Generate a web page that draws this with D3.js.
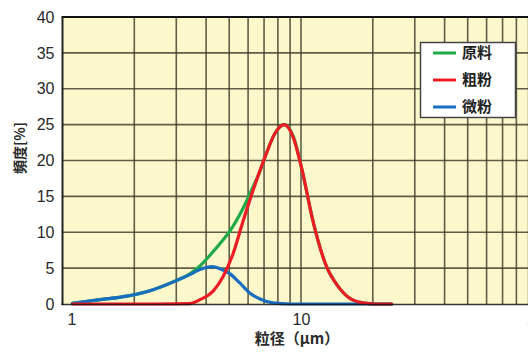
<!DOCTYPE html>
<html>
<head>
<script src="https://d3js.org/d3.v7.min.js"></script>
<style>
    body { margin: 0; background: #fff; }
    svg text { font-family: "Liberation Sans", "Noto Sans CJK JP", sans-serif; }
</style>
</head>
<body>
<script>
    // particle size (um) and frequency (%)
    var rawX   = [1.1, 1.44, 1.86, 2.4, 3.02, 3.42, 3.77, 4.28, 4.7, 5.04, 5.71, 6.29, 6.73, 7.07, 7.78, 8.5, 9.3, 10.1, 11.2, 12.8, 14.2, 16, 18.2, 20.4, 24];
    var rawY   = [0.1, 0.6, 1.1, 2.0, 3.3, 4.2, 5.3, 7.3, 8.9, 10.2, 13.3, 16.3, 18.5, 20.5, 23.8, 25, 23.3, 18.7, 11.7, 5.2, 2.6, 0.8, 0.15, 0, 0];

    var coarseX = [1.1, 2.5, 3.42, 3.77, 4.28, 4.71, 5.19, 5.71, 6.29, 7.07, 7.78, 8.5, 9.26, 10.1, 11.2, 12.8, 14.2, 16, 18.2, 20.4, 24];
    var coarseY = [0, 0, 0.05, 0.6, 1.8, 3.8, 7.0, 11.5, 15.8, 20.5, 23.8, 25, 23.3, 18.7, 11.7, 5.2, 2.6, 0.8, 0.15, 0, 0];

    var fineX = [1.1, 1.44, 1.86, 2.4, 3.02, 3.42, 3.77, 4.24, 4.66, 5.04, 5.55, 6.11, 6.73, 7.63, 9.0, 24];
    var fineY = [0.1, 0.6, 1.1, 2.0, 3.3, 4.1, 4.8, 5.2, 4.8, 4.2, 2.9, 1.5, 0.7, 0.15, 0, 0];

    var yTicks = [0, 5, 10, 15, 20, 25, 30, 35, 40];
    var xLabels = [1, 10, 100];
    var gridX = [2, 3, 4, 5, 6, 7, 8, 9, 10, 20, 30, 40, 50, 60, 70, 80, 90];

    var series = [
        { name: '原料', xs: rawX, ys: rawY, color: '#1faa48' },
        { name: '粗粉', xs: coarseX, ys: coarseY, color: '#ec1c24' },
        { name: '微粉', xs: fineX, ys: fineY, color: '#1a6ec0' }
    ];

    var W = 528, H = 353;
    var pLeft = 62.5, pTop = 17, pBottom = 304, pRight = 539.5;

    var svg = d3.select('body').append('svg')
        .attr('width', W)
        .attr('height', H);

    var x = d3.scaleLog().domain([1, 100]).range([pLeft, pRight]);
    var y = d3.scaleLinear().domain([0, 40]).range([pBottom, pTop]);

    // plot background
    svg.append('rect')
        .attr('x', pLeft).attr('y', pTop)
        .attr('width', pRight - pLeft).attr('height', pBottom - pTop)
        .attr('fill', '#fdf8cb');

    // grid
    var grid = svg.append('g')
        .attr('stroke', '#3d3b2c')
        .attr('stroke-opacity', 0.82)
        .attr('stroke-width', 1.6);

    grid.selectAll('.gx')
        .data(gridX)
        .enter().append('line')
        .attr('x1', d => x(d)).attr('x2', d => x(d))
        .attr('y1', pTop).attr('y2', pBottom);

    grid.selectAll('.gy')
        .data(yTicks.slice(1, -1))
        .enter().append('line')
        .attr('x1', pLeft).attr('x2', pRight)
        .attr('y1', d => y(d)).attr('y2', d => y(d));

    // frame
    svg.append('line')
        .attr('x1', pLeft - 1).attr('x2', pRight)
        .attr('y1', pTop).attr('y2', pTop)
        .attr('stroke', '#111').attr('stroke-width', 2.2);
    svg.append('line')
        .attr('x1', pLeft).attr('x2', pLeft)
        .attr('y1', pTop).attr('y2', pBottom + 1)
        .attr('stroke', '#222').attr('stroke-width', 2);

    // curves
    var line = d3.line()
        .x(d => x(d[0]))
        .y(d => y(d[1]))
        .curve(d3.curveMonotoneX);

    var drawOrder = [series[0], series[2], series[1]];
    svg.selectAll('.curve')
        .data(drawOrder)
        .enter().append('path')
        .attr('class', 'curve')
        .attr('d', s => line(d3.zip(s.xs, s.ys)))
        .attr('fill', 'none')
        .attr('stroke', s => s.color)
        .attr('stroke-width', 3.2)
        .attr('stroke-linejoin', 'round')
        .attr('stroke-linecap', 'round');

    svg.append('line')
        .attr('x1', pLeft - 1).attr('x2', pRight)
        .attr('y1', pBottom + 0.5).attr('y2', pBottom + 0.5)
        .attr('stroke', '#111').attr('stroke-width', 1.6)
        .attr('stroke-opacity', 0.85);

    // y axis labels
    var yAxis = d3.axisLeft(y).tickValues(yTicks).tickSize(0).tickPadding(8);
    svg.append('g')
        .attr('transform', 'translate(' + pLeft + ',0)')
        .call(yAxis)
        .call(g => g.select('.domain').remove())
        .selectAll('text')
        .attr('font-size', 16)
        .attr('fill', '#2a2a2a')
        .attr('font-family', '"Liberation Sans", sans-serif');

    // x axis labels
    var xAxis = d3.axisBottom(x).tickValues(xLabels).tickFormat(d3.format('d')).tickSize(0).tickPadding(10);
    svg.append('g')
        .attr('transform', 'translate(0,' + pBottom + ')')
        .call(xAxis)
        .call(g => g.select('.domain').remove())
        .selectAll('text')
        .attr('font-size', 16)
        .attr('fill', '#2a2a2a')
        .attr('font-family', '"Liberation Sans", sans-serif')
        .attr('dx', d => d === 1 ? 9 : 0);

    // axis titles
    svg.append('text')
        .attr('x', 297).attr('y', 344)
        .attr('text-anchor', 'middle')
        .attr('font-size', 15)
        .attr('font-weight', 'bold')
        .attr('fill', '#2a2a2a')
        .style('font-family', '"Noto Sans CJK JP", sans-serif')
        .text('粒径（μm）');

    svg.append('text')
        .attr('transform', 'translate(25,148) rotate(-90)')
        .attr('text-anchor', 'middle')
        .attr('font-size', 14)
        .attr('font-weight', 'bold')
        .attr('fill', '#2a2a2a')
        .style('font-family', '"Noto Sans CJK JP", sans-serif')
        .text('頻度[%]');

    // legend
    var legend = svg.append('g').attr('id', 'legend');
    legend.append('rect')
        .attr('x', 420.5).attr('y', 42.5)
        .attr('width', 95).attr('height', 75)
        .attr('fill', '#fff')
        .attr('stroke', '#444')
        .attr('stroke-width', 1.5);

    var items = legend.selectAll('.item')
        .data(series)
        .enter().append('g')
        .attr('transform', (d, i) => 'translate(0,' + (53 + i * 27) + ')');

    items.append('line')
        .attr('x1', 433).attr('x2', 456)
        .attr('stroke', d => d.color)
        .attr('stroke-width', 3);

    items.append('text')
        .attr('x', 462).attr('y', 5)
        .attr('font-size', 15)
        .attr('font-weight', 'bold')
        .attr('fill', '#222')
        .style('font-family', '"Noto Sans CJK JP", sans-serif')
        .text(d => d.name);
</script>
</body>
</html>
